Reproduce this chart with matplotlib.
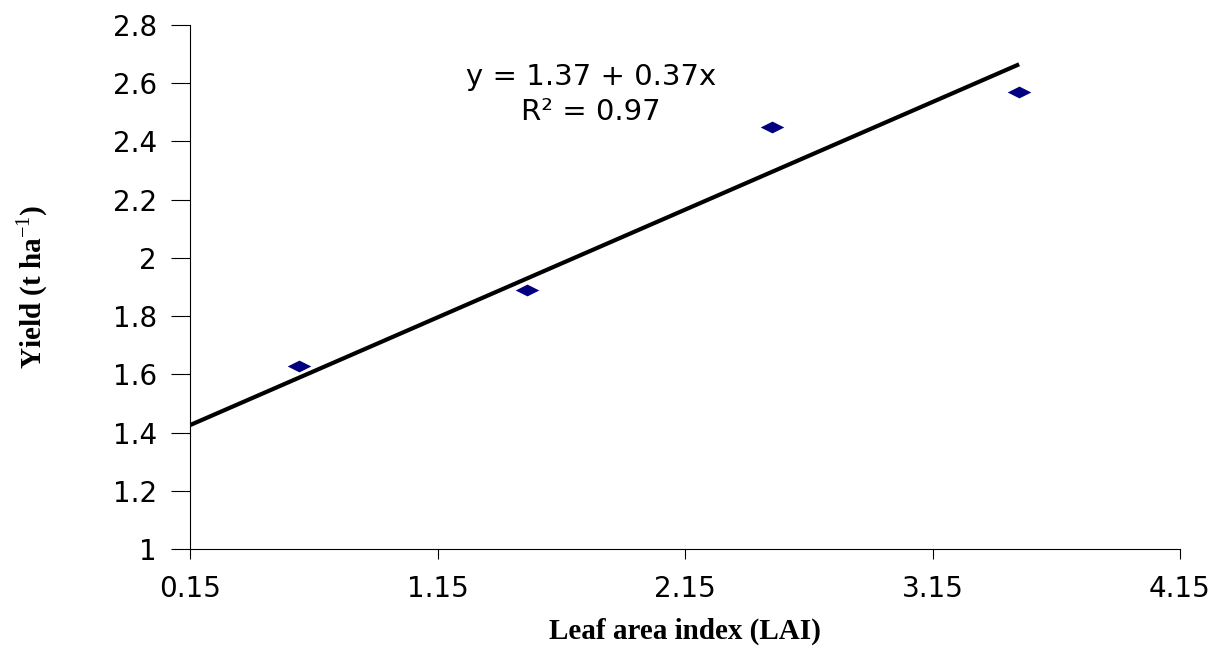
import numpy as np
import matplotlib
matplotlib.use("Agg")
from matplotlib import pyplot as plt

# data
lai = [0.59, 1.51, 2.50, 3.50]
yield_t = [1.63, 1.89, 2.45, 2.57]

# fitted line y = 1.37 + 0.37x
a, b = 1.37, 0.37
fit_x = [0.15, 3.50]
fit_y = [a + b * v for v in fit_x]

xticks = [0.15, 1.15, 2.15, 3.15, 4.15]
yticks = [1, 1.2, 1.4, 1.6, 1.8, 2, 2.2, 2.4, 2.6, 2.8]

plt.rcParams['mathtext.fontset'] = 'custom'
plt.rcParams['mathtext.rm'] = 'Liberation Serif'
plt.rcParams['mathtext.bf'] = 'Liberation Serif:bold'

fig = plt.figure(figsize=(12.32, 6.5), dpi=100)
ax = fig.add_axes([190/1232, 101/650, 990/1232, 524/650])

ax.plot(fit_x, fit_y, color='black', lw=3, solid_capstyle='butt')
diamond = [(-1, 0), (0, 0.5), (1, 0), (0, -0.5), (-1, 0)]
ax.plot(lai, yield_t, ls='none', marker=diamond, markersize=17,
        color='#000080', markeredgewidth=0)

ax.set_xlim(0.15, 4.15)
ax.set_ylim(1, 2.8)
ax.set_xticks(xticks)
ax.set_xticklabels(['%.2f' % v for v in xticks])
ax.set_yticks(yticks)
ax.set_yticklabels(['%g' % v for v in yticks])

for s in ['top', 'right']:
    ax.spines[s].set_visible(False)
for s in ['left', 'bottom']:
    ax.spines[s].set_linewidth(0.8)

ax.tick_params(axis='x', direction='out', length=7, width=0.8,
               labelsize=20, pad=12)
ax.tick_params(axis='y', direction='out', length=14, width=0.8,
               labelsize=20, pad=10)
for t in ax.get_xticklabels() + ax.get_yticklabels():
    t.set_family('DejaVu Sans')

ax.set_xlabel('Leaf area index (LAI)', family='Liberation Serif',
              fontweight='bold', fontsize=21, labelpad=10)
ax.set_ylabel(r'Yield (t ha$^{\mathrm{-1}}$)', family='Liberation Serif',
              fontweight='bold', fontsize=21, labelpad=45)

ax.text(1.77, 2.62, 'y = 1.37 + 0.37x', ha='center', va='center',
        fontsize=21, family='DejaVu Sans')
ax.text(1.77, 2.50, 'R² = 0.97', ha='center', va='center',
        fontsize=21, family='DejaVu Sans')

fig.savefig('out.png', dpi=100)
